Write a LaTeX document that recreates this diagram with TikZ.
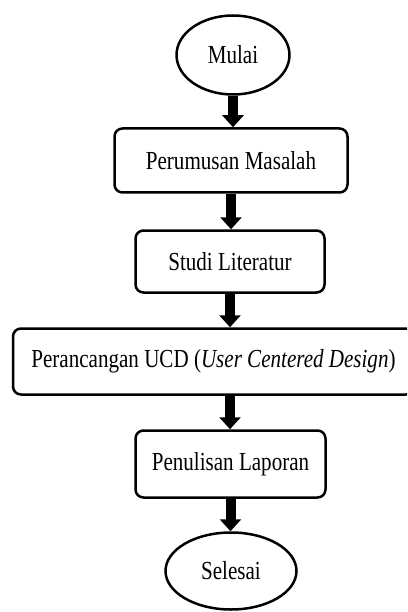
\documentclass[tikz,border=0pt]{standalone}
\usepackage{fontspec}
\setmainfont[FakeStretch=0.81]{Liberation Serif}
\usetikzlibrary{shapes.geometric,arrows.meta}
\tikzset{
  term/.style={ellipse, draw, line width=2.5pt, inner sep=0pt},
  stepbox/.style={rectangle, draw, line width=2.5pt, rounded corners=8pt, inner sep=0pt},
  flow/.style={line width=10pt, -{Triangle[width=21pt,length=12pt]}},
  every node/.style={font=\fontsize{26}{30}\selectfont}
}
\begin{document}
\begin{tikzpicture}[x=1pt,y=-1pt]
\useasboundingbox (0,0) rectangle (407,612);
\clip (0,0) rectangle (407,612);
\node[term, minimum width=113pt, minimum height=79pt] (start) at (233,55) {Mulai};
\node[stepbox, minimum width=233pt, minimum height=64pt] (p1) at (231,160.5) {Perumusan Masalah};
\node[stepbox, minimum width=189pt, minimum height=62pt] (p2) at (230,261.5) {Studi Literatur};
\node[stepbox, minimum width=401pt, minimum height=66pt] (p3) at (213.5,361.5) {Perancangan UCD (\textit{User Centered Design})};
\node[stepbox, minimum width=190pt, minimum height=67pt] (p4) at (230.5,464) {Penulisan Laporan};
\node[term, minimum width=131pt, minimum height=77pt] (end) at (231,571) {Selesai};
\draw[flow] (start.south) -- (start.south |- p1.north);
\draw[flow] (p1.south) -- (p1.south |- p2.north);
\draw[flow] (p2.south) -- (p2.south |- p3.north);
\draw[flow] (p2.south |- p3.south) -- (p2.south |- p4.north);
\draw[flow] (p4.south) -- (p4.south |- end.north);
\end{tikzpicture}
\end{document}
